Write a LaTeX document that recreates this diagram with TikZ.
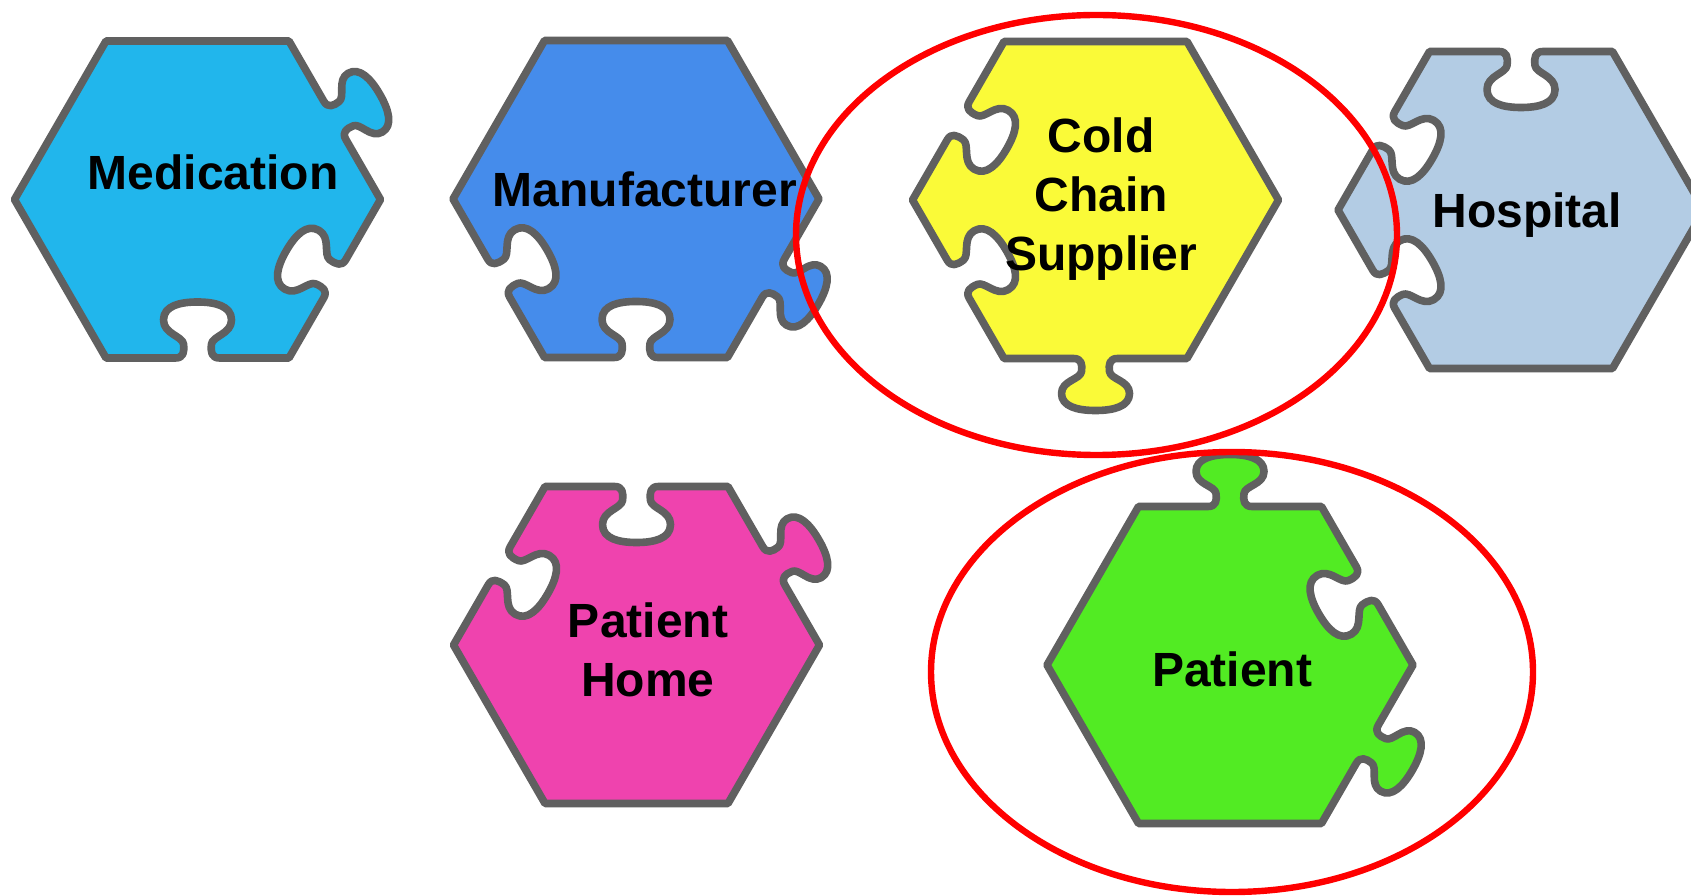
\documentclass[tikz,border=0pt]{standalone}
\usepackage{fontspec}
\setmainfont{Liberation Sans}
\definecolor{edgegray}{RGB}{96,96,96}
\definecolor{cMed}{RGB}{33,182,236}
\definecolor{cMan}{RGB}{69,140,235}
\definecolor{cCold}{RGB}{250,250,56}
\definecolor{cHosp}{RGB}{179,204,228}
\definecolor{cHome}{RGB}{239,67,174}
\definecolor{cPat}{RGB}{82,235,35}
\def\R{183}
\def\M{158.5}
% plain edge k
\newcommand\Ep[1]{-- (#1*60+60:\R)}
% tab (outward knob) on edge k
\newcommand\Et[1]{{[shift={(#1*60+30:\M)},rotate=#1*60+120] -- (-22,0) .. controls (-14,0) and (-13,-6) .. (-14,-13) .. controls (-15,-21) and (-34,-22) .. (-34,-35) .. controls (-34,-48) and (-18,-52) .. (0,-52) .. controls (18,-52) and (34,-48) .. (34,-35) .. controls (34,-22) and (15,-21) .. (14,-13) .. controls (13,-6) and (14,0) .. (22,0)} -- (#1*60+60:\R)}
% blank (inward hole) on edge k
\newcommand\Eb[1]{{[shift={(#1*60+30:\M)},rotate=#1*60+120] -- (-22,0) .. controls (-14,0) and (-13,6) .. (-14,14) .. controls (-15,22) and (-34,24) .. (-34,38) .. controls (-34,52) and (-18,56) .. (0,56) .. controls (18,56) and (34,52) .. (34,38) .. controls (34,24) and (15,22) .. (14,14) .. controls (13,6) and (14,0) .. (22,0)} -- (#1*60+60:\R)}
\begin{document}
\begin{tikzpicture}[x=0.5pt,y=0.5pt,
  piece/.style={draw=edgegray, line width=3.8pt, line join=round},
  lbl/.style={font=\bfseries\fontsize{24}{29.5}\selectfont, text=black, inner sep=0pt},
  mlbl/.style={lbl, align=center},
  ring/.style={draw=red, line width=3.2pt}]
\useasboundingbox (0,0) rectangle (1691,895);
\clip (0,0) rectangle (1691,895);
\fill[white] (0,0) rectangle (1691,895);

% Medication
\filldraw[piece, fill=cMed, shift={(197.5,695.5)}] (0:\R) \Et{0} \Ep{1} \Ep{2} \Ep{3} \Eb{4} \Eb{5} -- cycle;
% Manufacturer
\filldraw[piece, fill=cMan, shift={(636,696)}] (0:\R) \Ep{0} \Ep{1} \Ep{2} \Eb{3} \Eb{4} \Et{5} -- cycle;
% Cold Chain Supplier
\filldraw[piece, fill=cCold, shift={(1095.5,695)}] (0:\R) \Ep{0} \Ep{1} \Eb{2} \Eb{3} \Et{4} \Ep{5} -- cycle;
% Hospital
\filldraw[piece, fill=cHosp, shift={(1521,685)}] (0:\R) \Ep{0} \Eb{1} \Eb{2} \Eb{3} \Ep{4} \Ep{5} -- cycle;
% Patient Home
\filldraw[piece, fill=cHome, shift={(636.5,250)}] (0:\R) \Et{0} \Eb{1} \Eb{2} \Ep{3} \Ep{4} \Ep{5} -- cycle;
% Patient
\filldraw[piece, fill=cPat, shift={(1230,230)}] (0:\R) \Eb{0} \Et{1} \Ep{2} \Ep{3} \Ep{4} \Et{5} -- cycle;

\node[lbl, anchor=base] (med) at (213,705) {Medication};
\node[lbl, anchor=base] (man) at (645,688) {Manufacturer};
\node[mlbl] (cold) at (1101,696) {Cold\\Chain\\Supplier};
\node[lbl, anchor=base] (hosp) at (1527,667) {Hospital};
\node[mlbl] (home) at (648,245) {Patient\\Home};
\node[lbl, anchor=base] (pat) at (1232,209) {Patient};

\draw[ring] (1096.5,660) ellipse [x radius=150.25pt, y radius=110pt];
\draw[ring] (1232,223) ellipse [x radius=150.5pt, y radius=110pt];
\end{tikzpicture}
\end{document}
